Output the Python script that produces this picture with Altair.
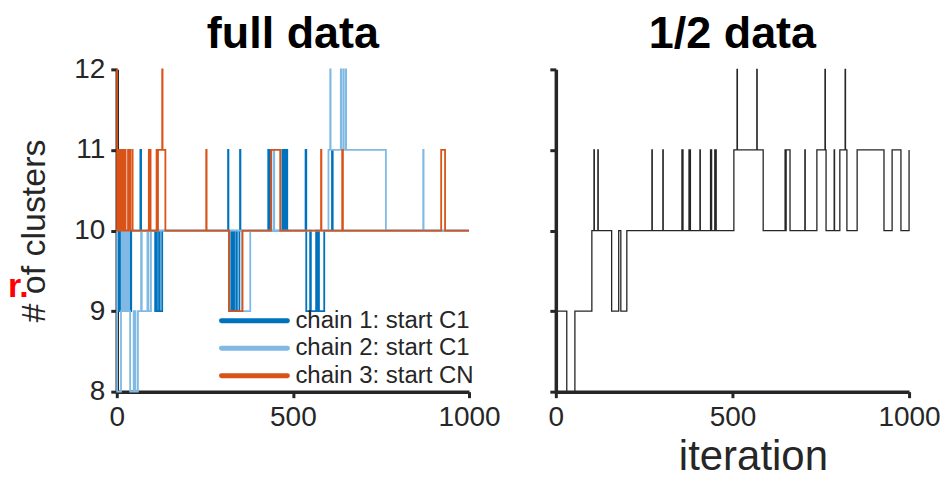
import altair as alt
import pandas as pd

# ---- data: change points of step traces (iteration, # of clusters) ----
chain1_iter = [0, 3, 5, 10, 12, 18, 20, 28, 30, 32, 39, 41, 67, 69, 109, 112, 114, 120, 122, 129,
               316, 317, 319, 325, 327, 331, 333, 339, 341, 348, 350, 351,
               430, 432, 436, 438, 470, 472, 476, 478, 482, 484,
               536, 538, 549, 551, 566, 568, 572, 574, 589, 611, 613, 1000]
chain1_val = [9, 10, 9, 10, 9, 10, 9, 10, 9, 10, 9, 10, 11, 10, 9, 10, 9, 10, 9, 10,
              11, 10, 9, 10, 9, 10, 9, 10, 9, 10, 11, 10,
              11, 10, 11, 10, 11, 10, 11, 10, 11, 10,
              11, 9, 10, 9, 10, 9, 10, 9, 10, 11, 10, 10]

chain2_iter = [0, 1, 12, 14, 17, 20, 23, 26, 29, 32, 35, 38, 48, 53, 60, 69, 71, 87, 90, 97,
               356, 379, 445, 447, 601, 606, 607, 636, 637, 643, 644, 650, 651, 764, 870, 871, 1000]
chain2_val = [10, 8, 9, 10, 9, 10, 9, 10, 9, 10, 9, 8, 9, 8, 9, 10, 9, 10, 9, 10,
              9, 10, 11, 10, 11, 12, 11, 12, 11, 12, 11, 12, 11, 10, 11, 10, 10]

chain3_iter = [0, 1, 2, 4, 5, 7, 8, 10, 11, 13, 14, 16, 17, 19, 20, 22, 23, 25, 32, 33, 37, 38, 44, 45,
               91, 92, 95, 96, 113, 115, 117, 129, 130, 138, 254, 255, 319, 357, 438, 464,
               580, 581, 640, 642, 921, 932, 1000]
chain3_val = [12, 10, 11, 10, 11, 10, 11, 10, 11, 10, 11, 10, 11, 10, 11, 10, 11, 10, 11, 10, 11, 10, 11, 10,
              11, 10, 11, 10, 11, 10, 11, 12, 11, 10, 11, 10, 9, 10, 11, 10,
              11, 10, 11, 10, 11, 10, 10]

half_iter = [0, 31, 54, 102, 108, 109, 119, 120, 158, 178, 184, 201, 272, 273, 303, 304,
             357, 358, 359, 360, 377, 378, 380, 381, 408, 409, 438, 439, 440, 441, 450, 451, 453, 454,
             504, 513, 514, 569, 570, 587, 649, 651, 652, 663, 705, 706, 739, 762, 763, 765,
             788, 789, 804, 819, 820, 824, 853, 929, 952, 977, 1000]
half_val = [9, 8, 9, 10, 11, 10, 11, 10, 9, 10, 9, 10, 11, 10, 11, 10,
            11, 10, 11, 10, 11, 10, 11, 10, 11, 10, 11, 10, 11, 10, 11, 10, 11, 10,
            11, 12, 11, 12, 11, 10, 11, 10, 11, 10, 11, 10, 11, 12, 11, 10,
            11, 10, 11, 12, 11, 10, 11, 10, 11, 10, 11]

panel_titles = ["full data", "1/2 data"]
legend_labels = ["chain 1: start C1", "chain 2: start C1", "chain 3: start CN"]
legend_colors = ["#0072BD", "#80B9E3", "#D95319"]
x_ticks = [0, 500, 1000]
y_ticks = [8, 9, 10, 11, 12]

FONT = "Liberation Sans"
W, H = 353, 323


def frame(its, vals):
    return pd.DataFrame({"iteration": its, "clusters": vals})


xs = alt.Scale(domain=[0, 1000], nice=False, zero=False)
ys = alt.Scale(domain=[8, 12], nice=False, zero=False)

x_left = alt.X("iteration:Q", scale=xs,
               axis=alt.Axis(values=x_ticks, format="d", labelFlush=False, title=None))
y_left = alt.Y("clusters:Q", scale=ys,
               axis=alt.Axis(values=y_ticks, title="# of clusters", titlePadding=22))


def chain(its, vals, color):
    return alt.Chart(frame(its, vals)).mark_line(
        interpolate="step-after", color=color, strokeWidth=1.8
    ).encode(x=x_left, y=y_left)


def panel_title(text, width):
    return alt.Chart(pd.DataFrame({"t": [text]})).mark_text(
        align="center", baseline="alphabetic", fontSize=45, fontWeight="bold", font=FONT, color="black"
    ).encode(x=alt.value(width / 2), y=alt.value(-21), text="t:N")


lines = alt.layer(
    chain(chain1_iter, chain1_val, legend_colors[0]),
    chain(chain2_iter, chain2_val, legend_colors[1]),
    chain(chain3_iter, chain3_val, legend_colors[2]),
)

leg_df = pd.DataFrame({"label": legend_labels})
leg_y = alt.Y("label:N", sort=legend_labels,
              scale=alt.Scale(type="point", range=[252, 307], padding=0), axis=None)
leg_rule = alt.Chart(leg_df).mark_rule(strokeWidth=5, strokeCap="round").encode(
    x=alt.value(105), x2=alt.value(171), y=leg_y,
    color=alt.Color("label:N", scale=alt.Scale(domain=legend_labels, range=legend_colors), legend=None),
)
leg_text = alt.Chart(leg_df).mark_text(
    align="left", baseline="middle", fontSize=24, font=FONT, color="#262626"
).encode(x=alt.value(179), y=leg_y, text="label:N")

stray = alt.Chart(pd.DataFrame({"t": ["r."]})).mark_text(
    align="left", baseline="alphabetic", fontSize=34, fontWeight="bold", font=FONT, color="#FF0000"
).encode(x=alt.value(-109), y=alt.value(228), text="t:N")

left = alt.layer(lines, leg_rule, leg_text, stray, panel_title(panel_titles[0], W)).resolve_scale(
    y="independent"
).properties(width=W, height=H)

right_line = alt.Chart(frame(half_iter, half_val)).mark_line(
    interpolate="step-after", color="#262626", strokeWidth=1.3
).encode(
    x=alt.X("iteration:Q", scale=xs,
            axis=alt.Axis(values=x_ticks, format="d", labelFlush=False, title="iteration",
                          titleFontSize=42, titlePadding=5, titleX=W / 2 + 21)),
    y=alt.Y("clusters:Q", scale=ys, axis=alt.Axis(values=y_ticks, labels=False, title=None)),
)
right = alt.layer(right_line, panel_title(panel_titles[1], W + 1)).properties(width=W + 1, height=H)

chart = alt.hconcat(left, right, spacing=87, bounds="flush").properties(
    padding={"left": 0, "top": 4, "right": 0, "bottom": 0}
).configure_view(stroke=None).configure_axis(
    domainWidth=3.5, domainColor="#262626", tickColor="#262626", tickWidth=3, tickSize=6,
    labelFontSize=28, labelFont=FONT, labelColor="#262626", labelPadding=6,
    titleFontSize=34, titleFont=FONT, titleColor="#262626", titleFontWeight="normal",
    grid=False,
)

chart.save("out.html", embed_options={"renderer": "svg", "actions": False})
